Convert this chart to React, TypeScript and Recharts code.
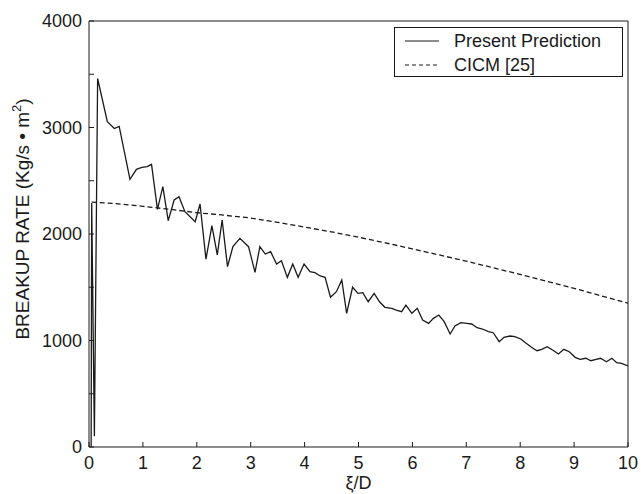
import React from "react";
import { Line, LineChart, XAxis, YAxis } from "recharts";

// Present prediction (solid)
const predX = [
  0.04, 0.05, 0.1, 0.16, 0.34, 0.47, 0.56, 0.76, 0.88, 0.98, 1.08, 1.16, 1.27, 1.37, 1.47, 1.58, 1.67,
  1.78, 1.97, 2.06, 2.17, 2.28, 2.38, 2.47, 2.57, 2.67, 2.8, 2.96, 3.08, 3.17, 3.27, 3.37, 3.48, 3.57,
  3.68, 3.78, 3.88, 3.99, 4.1, 4.19, 4.29, 4.38, 4.48, 4.59, 4.69, 4.78, 4.89, 4.99, 5.08, 5.18, 5.29,
  5.39, 5.49, 5.62, 5.7, 5.8, 5.88, 5.99, 6.09, 6.19, 6.3, 6.39, 6.49, 6.59, 6.7, 6.79, 6.9, 7.01, 7.1,
  7.2, 7.3, 7.41, 7.5, 7.61, 7.7, 7.81, 7.9, 8.01, 8.11, 8.21, 8.31, 8.4, 8.5, 8.6, 8.71, 8.81, 8.91,
  9.02, 9.11, 9.22, 9.31, 9.41, 9.49, 9.6, 9.7, 9.79, 9.88, 10,
];
const predY = [
  0, 2290, 100, 3460, 3055, 2990, 3010, 2513, 2607, 2626, 2632, 2654, 2232, 2444, 2125, 2319, 2350,
  2209, 2116, 2282, 1763, 2078, 1803, 2131, 1693, 1881, 1959, 1881, 1640, 1881, 1812, 1834, 1718, 1749,
  1593, 1718, 1593, 1718, 1646, 1637, 1606, 1593, 1406, 1458, 1568, 1255, 1500, 1443, 1449, 1364, 1443,
  1364, 1312, 1302, 1286, 1271, 1333, 1255, 1302, 1192, 1161, 1208, 1239, 1177, 1061, 1136, 1167, 1161, 1155,
  1120, 1108, 1083, 1073, 989, 1030, 1042, 1036, 1014, 974, 936, 904, 917, 942, 911, 873, 917, 895,
  842, 823, 833, 810, 823, 833, 801, 833, 792, 786, 761,
];

// CICM [25] (dashed)
const cicmX = [0.05, 0.5, 1, 1.5, 2, 2.5, 3, 3.5, 4, 4.5, 5, 5.5, 6, 6.5, 7, 7.5, 8, 8.5, 9, 9.5, 10];
const cicmY = [
  2300, 2285, 2260, 2232, 2200, 2177, 2150, 2110, 2065, 2020, 1970, 1917, 1860, 1803, 1745, 1683, 1620,
  1555, 1490, 1420, 1350,
];

const xTicks = [0, 1, 2, 3, 4, 5, 6, 7, 8, 9, 10];
const yTicks = [0, 500, 1000, 1500, 2000, 2500, 3000, 3500, 4000];
const legendItems = [
  { label: "Present Prediction", dash: undefined as string | undefined },
  { label: "CICM [25]", dash: "4 3" },
];

const predData = predX.map((x, i) => ({ x, y: predY[i] }));
const cicmData = cicmX.map((x, i) => ({ x, y: cicmY[i] }));

const INK = "#1a1a1a";
const FONT = "Liberation Sans, Arial, sans-serif";

function LegendBox() {
  return (
    <div
      style={{
        position: "absolute",
        left: 394,
        top: 27,
        width: 229,
        height: 50,
        border: `1px solid ${INK}`,
        background: "#fff",
        fontFamily: FONT,
        fontSize: 18,
        color: INK,
        boxSizing: "border-box",
      }}
    >
      {legendItems.map((row, i) => (
        <div
          key={row.label}
          style={{ position: "absolute", left: 10, top: 2 + i * 24, height: 22, display: "flex", alignItems: "center" }}
        >
          <svg width={34} height={4} style={{ marginRight: 15 }}>
            <line x1={0} x2={34} y1={2} y2={2} stroke={INK} strokeWidth={1.2} strokeDasharray={row.dash} />
          </svg>
          <span>{row.label}</span>
        </div>
      ))}
    </div>
  );
}

export default function App() {
  return (
    <div style={{ position: "absolute", left: 0, top: 0, width: 641, height: 494, background: "#fff" }}>
      <LineChart width={641} height={494} margin={{ top: 20, right: 12, bottom: 0, left: 0 }}>
        <XAxis
          type="number"
          dataKey="x"
          domain={[0, 10]}
          ticks={xTicks}
          height={47}
          tickSize={-5}
          tickMargin={14}
          stroke={INK}
          tick={{ fill: INK, fontSize: 18, fontFamily: FONT }}
          allowDataOverflow
          label={{ value: "ξ/D", position: "insideBottom", offset: 5, fill: INK, fontSize: 18, fontFamily: FONT }}
        />
        <XAxis
          xAxisId="top"
          orientation="top"
          type="number"
          domain={[0, 10]}
          ticks={xTicks}
          height={1}
          tickSize={-5}
          tick={false}
          stroke={INK}
        />
        <YAxis
          type="number"
          domain={[0, 4000]}
          ticks={yTicks}
          width={89}
          tickSize={-5}
          tickMargin={12}
          stroke={INK}
          tick={{ fill: INK, fontSize: 18, fontFamily: FONT }}
          tickFormatter={(v: number) => (v % 1000 === 0 ? String(v) : "")}
          label={{
            content: () => (
              <text
                x={29}
                y={219}
                transform="rotate(-90 29 219)"
                textAnchor="middle"
                fill={INK}
                fontSize={19}
                fontFamily={FONT}
              >
                BREAKUP RATE (Kg/s • m
                <tspan dy={-8} fontSize={13}>
                  2
                </tspan>
                <tspan dy={8}>)</tspan>
              </text>
            ),
          }}
        />
        <YAxis
          yAxisId="right"
          orientation="right"
          type="number"
          domain={[0, 4000]}
          ticks={yTicks}
          width={1}
          tickSize={-5}
          tick={false}
          stroke={INK}
        />
        <Line
          data={cicmData}
          dataKey="y"
          type="linear"
          stroke={INK}
          strokeWidth={1.3}
          strokeDasharray="5 3"
          dot={false}
          isAnimationActive={false}
        />
        <Line
          data={predData}
          dataKey="y"
          type="linear"
          stroke={INK}
          strokeWidth={1.3}
          dot={false}
          isAnimationActive={false}
        />
      </LineChart>
      <LegendBox />
    </div>
  );
}
